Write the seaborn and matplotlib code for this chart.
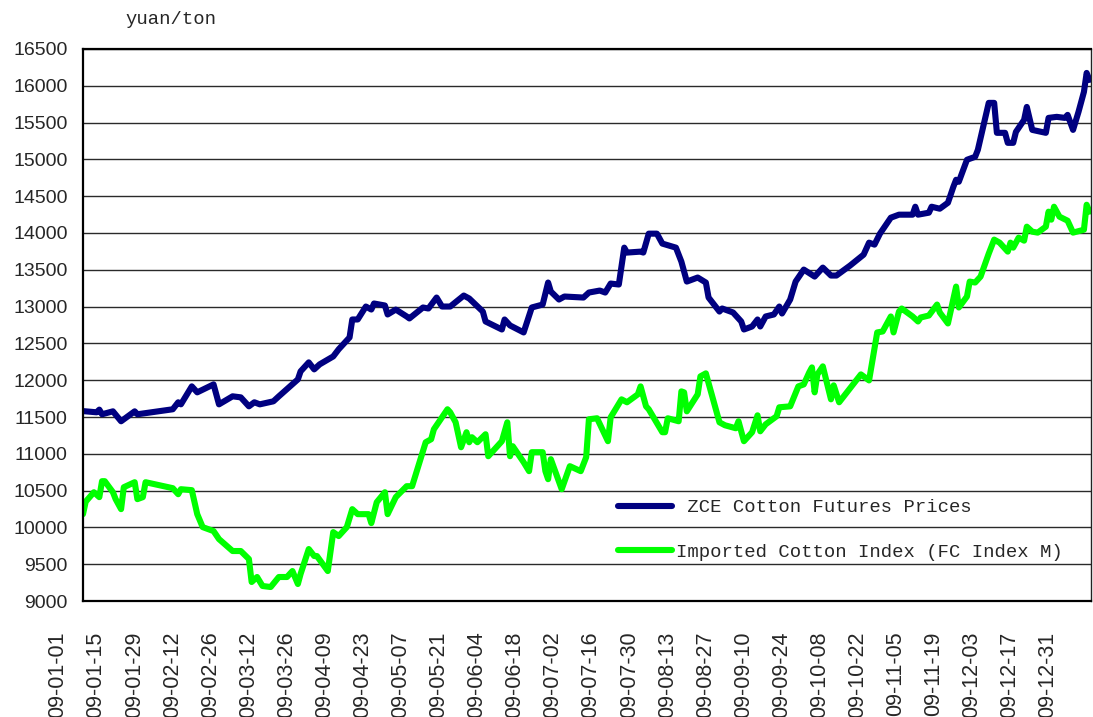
import numpy as np
import pandas as pd
import seaborn as sns
import matplotlib.pyplot as plt
import matplotlib.dates as mdates
from matplotlib.transforms import ScaledTranslation

# days counted from 2009-01-01, prices in yuan/ton
zce_day = [0, 5, 6, 7, 11, 14, 19, 20, 33, 35, 36, 40, 42, 48, 50, 55, 58, 61, 63, 65,
           70, 72, 79, 80, 83, 85, 87, 92, 94, 98, 99, 101, 104, 106, 107, 111, 112, 115,
           119, 120, 125, 127, 130, 132, 135, 140, 142, 147, 148, 154, 155, 157, 162, 165,
           169, 171, 172, 175, 177, 184, 186, 190, 192, 194, 197, 199, 200, 205, 206, 208,
           211, 213, 218, 220, 222, 226, 229, 230, 234, 235, 239, 242, 243, 246, 248, 249,
           251, 254, 256, 257, 260, 262, 265, 269, 272, 275, 277, 282, 287, 289, 291, 293,
           297, 300, 305, 306, 307, 311, 312, 315, 318, 320, 321, 322, 325, 328, 329, 333,
           335, 336, 339, 340, 342, 343, 346, 347, 349, 354, 355, 358, 361, 362, 364, 366,
           368, 369, 370]
zce_price = [11580, 11564, 11600, 11537, 11577, 11442, 11577, 11537, 11605, 11700, 11672,
             11916, 11835, 11943, 11672, 11781, 11767, 11645, 11700, 11672, 11713, 11781,
             12011, 12120, 12242, 12147, 12215, 12323, 12420, 12581, 12825, 12825, 13001,
             12960, 13042, 13015, 12893, 12960, 12866, 12839, 12988, 12974, 13123, 13001,
             13001, 13150, 13110, 12933, 12798, 12689, 12825, 12744, 12649, 12988, 13028,
             13327, 13205, 13096, 13137, 13123, 13191, 13218, 13191, 13313, 13300, 13801,
             13734, 13747, 13734, 13991, 13991, 13856, 13801, 13611, 13340, 13395, 13327,
             13123, 12933, 12974, 12920, 12798, 12689, 12730, 12825, 12730, 12866, 12893,
             13001, 12906, 13096, 13340, 13503, 13408, 13530, 13422, 13422, 13557, 13706,
             13869, 13842, 13991, 14208, 14249, 14249, 14357, 14249, 14276, 14357, 14330,
             14411, 14628, 14723, 14696, 14995, 15035, 15130, 15768, 15768, 15361, 15361,
             15225, 15225, 15374, 15537, 15713, 15401, 15361, 15564, 15578, 15564, 15605,
             15401, 15645, 15917, 16175, 16080]

fc_day = [0, 1, 4, 6, 7, 8, 11, 12, 14, 15, 19, 20, 22, 23, 33, 35, 36, 40, 42, 44, 48,
          50, 55, 58, 61, 62, 64, 66, 69, 72, 75, 77, 79, 80, 83, 85, 86, 90, 92, 94, 97,
          99, 101, 105, 106, 108, 111, 112, 115, 119, 121, 126, 128, 129, 134, 135, 137,
          139, 141, 142, 143, 145, 148, 149, 154, 156, 157, 158, 162, 164, 165, 169, 170,
          171, 172, 176, 179, 183, 185, 186, 189, 193, 194, 198, 200, 204, 205, 207, 208,
          213, 214, 215, 219, 220, 221, 222, 226, 227, 229, 234, 236, 240, 241, 243, 246,
          248, 249, 251, 255, 256, 260, 263, 265, 267, 268, 269, 270, 272, 275, 276, 278,
          286, 289, 292, 294, 297, 298, 300, 301, 305, 307, 308, 311, 314, 315, 318, 321,
          322, 325, 326, 328, 330, 333, 335, 337, 340, 341, 342, 344, 346, 347, 349, 351,
          354, 355, 356, 357, 359, 362, 364, 368, 369, 370]
fc_price = [10180, 10350, 10478, 10411, 10628, 10628, 10478, 10384, 10248, 10546, 10614,
            10384, 10411, 10614, 10533, 10451, 10519, 10506, 10180, 10004, 9950, 9841,
            9679, 9679, 9570, 9258, 9326, 9204, 9190, 9326, 9326, 9407, 9231, 9367, 9706,
            9611, 9611, 9407, 9936, 9882, 10004, 10248, 10180, 10180, 10058, 10343, 10478,
            10180, 10411, 10560, 10560, 11157, 11198, 11333, 11605, 11564, 11428, 11089,
            11293, 11157, 11225, 11157, 11266, 10967, 11171, 11428, 10967, 11103, 10886,
            10764, 11022, 11022, 10764, 10655, 10927, 10519, 10832, 10764, 10954, 11469,
            11483, 11171, 11496, 11740, 11700, 11808, 11916, 11645, 11605, 11293, 11293,
            11483, 11442, 11848, 11835, 11577, 11808, 12052, 12093, 11428, 11388, 11347,
            11442, 11171, 11293, 11523, 11306, 11401, 11510, 11632, 11645, 11916, 11943,
            12106, 12174, 11835, 12079, 12188, 11740, 11930, 11700, 12079, 11997, 12649,
            12662, 12866, 12649, 12933, 12974, 12866, 12798, 12852, 12879, 13028, 12920,
            12771, 13272, 12988, 13137, 13340, 13327, 13408, 13720, 13910, 13869, 13747,
            13869, 13801, 13937, 13896, 14086, 14018, 14005, 14086, 14290, 14181, 14357,
            14222, 14167, 14005, 14045, 14384, 14290]

series_names = ['ZCE Cotton Futures Prices', 'Imported Cotton Index (FC Index M)']
y_ticks = list(range(9000, 16501, 500))

start = pd.Timestamp('2009-01-01')
zce = pd.DataFrame({'date': start + pd.to_timedelta(zce_day, unit='D'), 'price': zce_price})
fc = pd.DataFrame({'date': start + pd.to_timedelta(fc_day, unit='D'), 'price': fc_price})

sns.set_theme(style='white')
plt.rcParams['font.family'] = ['Liberation Sans', 'DejaVu Sans']
mono = ['Liberation Mono', 'DejaVu Sans Mono']

fig = plt.figure(figsize=(10.93, 7.17), dpi=100)
ax = fig.add_axes([83 / 1093, 1 - 601 / 717, 1008 / 1093, 552 / 717])

sns.lineplot(data=zce, x='date', y='price', ax=ax, color='#000080', lw=4.4,
             estimator=None, sort=False, label=' ' + series_names[0])
sns.lineplot(data=fc, x='date', y='price', ax=ax, color='#00ff00', lw=4.4,
             estimator=None, sort=False, label=series_names[1])

ax.set_xlim(start, start + pd.Timedelta(days=370.6))
ax.set_ylim(9000, 16500)
ax.set_yticks(y_ticks)
ax.set_xlabel('')
ax.set_ylabel('')

# labels every 14 days, tick marks sit on their own grid like the Excel original
ax.set_xticks(pd.date_range('2009-01-01', periods=27, freq='14D'))
ax.set_xticks(start + pd.to_timedelta(12.13 + 13.5 * np.arange(26), unit='D'), minor=True)
ax.xaxis.set_major_formatter(mdates.DateFormatter('%y-%m-%d'))
ax.tick_params(axis='x', which='major', length=0, labelrotation=90, pad=22, labelsize=15.5)
ax.tick_params(axis='x', which='minor', length=4.5, width=1, direction='in', color='black')
ax.tick_params(axis='y', length=0, pad=11, labelsize=14)
for lbl in ax.get_xticklabels():
    lbl.set_transform(lbl.get_transform() + ScaledTranslation(-0.25, 0, fig.dpi_scale_trans))

ax.yaxis.grid(True, color='#2a2a2a', lw=1.0)
ax.xaxis.grid(False)
ax.set_axisbelow(True)
for side in ['left', 'bottom', 'top']:
    ax.spines[side].set_color('black')
    ax.spines[side].set_linewidth(1.6)
ax.spines['right'].set_color('#222222')
ax.spines['right'].set_linewidth(1.0)

ax.legend(loc='upper left', bbox_to_anchor=(618 / 1093, 1 - 499 / 717),
          bbox_transform=fig.transFigure, frameon=False, borderpad=0, borderaxespad=0,
          handlelength=2.86, handletextpad=0.2, labelspacing=1.46,
          prop={'family': mono, 'size': 13.6})

fig.text(125 / 1093, 1 - 20 / 717, 'yuan/ton', family=mono, fontsize=13.6,
         va='center', ha='left')

fig.savefig('out.png', dpi=100)
